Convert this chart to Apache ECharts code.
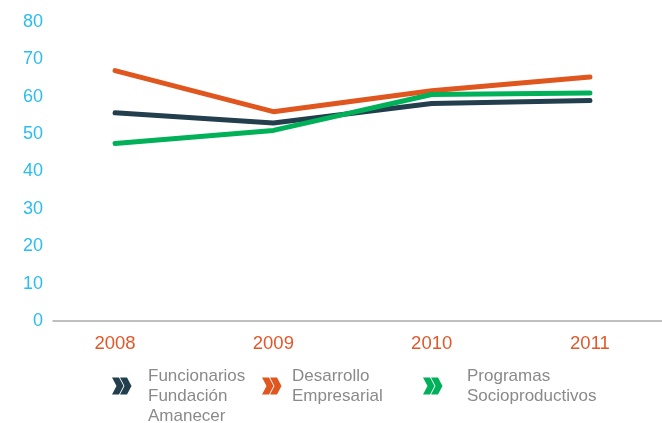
<!DOCTYPE html>
<html>
<head>
<meta charset="utf-8">
<script src="https://cdn.jsdelivr.net/npm/echarts@6/dist/echarts.min.js"></script>
<style>
  html, body { margin: 0; padding: 0; background: #fff; }
  #chart { width: 662px; height: 423px; }
</style>
</head>
<body>
<div id="chart"></div>
<script>
// Years on the horizontal axis
const years = [2008, 2009, 2010, 2011];

// Series values per year
const funcionarios = [55.7, 53.0, 58.2, 59.0];
const desarrollo = [67.0, 56.0, 61.6, 65.3];
const programas = [47.5, 51.0, 60.6, 61.0];

// Series names (legend text uses line breaks)
const names = ['Funcionarios Fundación Amanecer', 'Desarrollo Empresarial', 'Programas Socioproductivos'];
const legendLines = {
  'Funcionarios Fundación Amanecer': '\u200b\nFuncionarios\nFundación\nAmanecer',
  'Desarrollo Empresarial': 'Desarrollo\nEmpresarial',
  'Programas Socioproductivos': 'Programas\nSocioproductivos'
};

const colors = ['#233e4d', '#e0561f', '#00b159'];

// Bold double chevron marker used as legend icon
const chevron = 'path://M0,0 L7,0 L11.5,8.5 L7,17 L0,17 L4.5,8.5 Z M8,0 L15,0 L19.5,8.5 L15,17 L8,17 L12.5,8.5 Z';

const pairs = vals => years.map((y, i) => [y, vals[i]]);

function legendAt(idx, left, top, gap) {
  return {
    data: [{ name: names[idx], icon: chevron }],
    left: left,
    top: top,
    padding: 0,
    itemWidth: 19.5,
    itemHeight: 17,
    selectedMode: false,
    itemStyle: { color: colors[idx], borderWidth: 0 },
    formatter: n => legendLines[n],
    textStyle: {
      color: '#8a8a8a',
      fontSize: 17,
      lineHeight: 20,
      fontFamily: 'Liberation Sans, Arial, sans-serif',
      padding: [0, 0, 0, gap]
    }
  };
}

const chart = echarts.init(document.getElementById('chart'), null, { renderer: 'canvas' });

chart.setOption({
  animation: false,
  backgroundColor: '#fff',
  grid: { left: 53, right: 0, top: 22, bottom: 102 },
  xAxis: {
    type: 'value',
    min: 2007.608,
    max: 2011.455,
    splitLine: { show: false },
    axisTick: { show: false },
    axisLine: { show: true, lineStyle: { color: '#aaaaaa', width: 1.5 } },
    axisLabel: {
      customValues: years,
      color: '#e0582a',
      fontSize: 18.5,
      margin: 13,
      fontFamily: 'Liberation Sans, Arial, sans-serif',
      formatter: v => String(v)
    }
  },
  yAxis: {
    type: 'value',
    min: 0,
    max: 80,
    interval: 10,
    splitLine: { show: false },
    axisLine: { show: false },
    axisTick: { show: false },
    axisLabel: {
      color: '#2bbdee',
      fontSize: 18,
      margin: 10,
      padding: [0, 0, 3, 0],
      fontFamily: 'Liberation Sans, Arial, sans-serif'
    }
  },
  legend: [
    legendAt(0, 112, 346, 11.5),
    legendAt(1, 262, 366, 5.5),
    legendAt(2, 423, 366, 19.5)
  ],
  series: [
    { name: names[0], data: pairs(funcionarios) },
    { name: names[1], data: pairs(desarrollo) },
    { name: names[2], data: pairs(programas) }
  ].map((s, i) => Object.assign(s, {
    type: 'line',
    symbol: 'none',
    color: colors[i],
    lineStyle: { width: 5, color: colors[i], cap: 'round', join: 'round' }
  }))
});
</script>
</body>
</html>
